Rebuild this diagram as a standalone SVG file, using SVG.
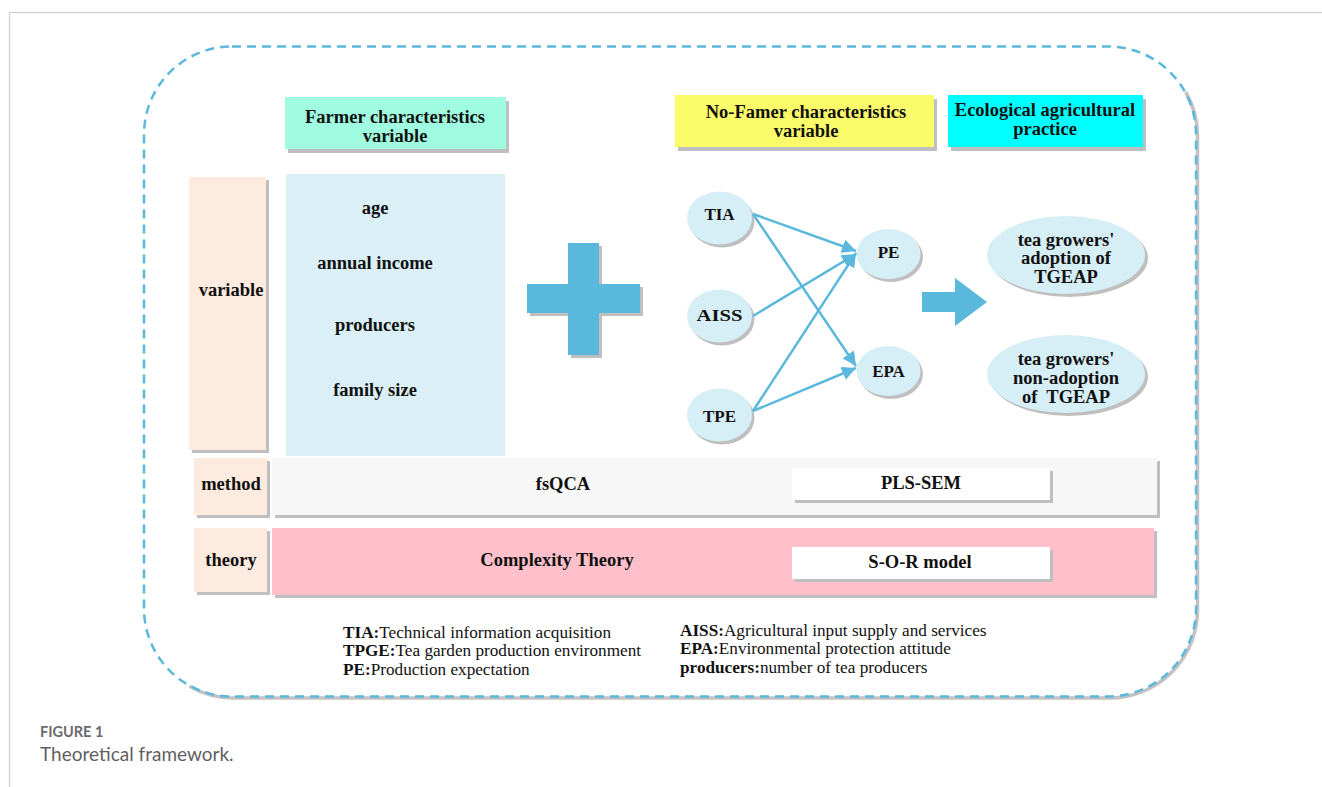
<svg xmlns="http://www.w3.org/2000/svg" width="1322" height="787" viewBox="0 0 1322 787">
<defs>
<style>
.t{font-family:"Liberation Serif","Times New Roman",serif;font-weight:bold;font-size:18.5px;fill:#111;text-anchor:middle}
.e{font-family:"Liberation Serif","Times New Roman",serif;font-weight:bold;font-size:17px;fill:#111;text-anchor:middle}
.lg{font-family:"Liberation Serif","Times New Roman",serif;font-size:17.2px;fill:#111}
.lg tspan.b{font-weight:bold}
.sh{fill:#bfbfbf}
.ell{fill:#d6eef5}
.con{stroke:#5bb8dd;stroke-width:2.5;fill:none;marker-end:url(#ah)}
</style>
<marker id="ah" markerUnits="userSpaceOnUse" markerWidth="16" markerHeight="14" refX="14" refY="7" orient="auto">
<path d="M0,0 L14,7 L0,14 Z" fill="#5bb8dd"/>
</marker>
</defs>
<rect width="1322" height="787" fill="#fff"/>
<g id="page-frame" fill="none" stroke="#d4d4d4" stroke-width="1.5">
<path d="M9.5,787 V12.5 H1322"/>
</g>
<g id="outer-frame" fill="none">
<path d="M1184.2,90.5 A88,88 0 0 1 1196,134.5 V608.5 A88,88 0 0 1 1108,696.5 H232 A88,88 0 0 1 188,684.7" stroke="#c2c2c2" stroke-width="3.5" transform="translate(1.5,1.5)"/>
<rect x="144" y="46.5" width="1052" height="650" rx="88" ry="88" stroke="#5bb8dd" stroke-width="2.5" stroke-dasharray="9,6"/>
</g>
<g id="farmer-header">
<rect class="sh" x="288" y="101" width="221" height="52"/>
<rect x="285" y="97" width="221" height="52" fill="#a0fce0"/>
<text class="t" x="395" y="123">Farmer characteristics</text>
<text class="t" x="395" y="142">variable</text>
</g>
<g id="nofarmer-header">
<rect class="sh" x="678" y="99" width="259" height="52"/>
<rect x="675" y="95" width="259" height="52" fill="#fcfc6a"/>
<text class="t" x="806" y="118">No-Famer characteristics</text>
<text class="t" x="806" y="137">variable</text>
</g>
<g id="eco-header">
<rect class="sh" x="951" y="99" width="195" height="52"/>
<rect x="948" y="95" width="195" height="52" fill="#00ffff"/>
<text class="t" x="1045" y="116">Ecological agricultural</text>
<text class="t" x="1045" y="135">practice</text>
</g>
<g id="variable-label">
<rect class="sh" x="192" y="180" width="77" height="273"/>
<rect x="189" y="177" width="77" height="273" fill="#fdebdf"/>
<text class="t" x="231" y="296">variable</text>
</g>
<g id="farmer-vars">
<rect x="286" y="174" width="219" height="282" fill="#daf0f6"/>
<text class="t" x="375" y="214">age</text>
<text class="t" x="375" y="269">annual income</text>
<text class="t" x="375" y="331">producers</text>
<text class="t" x="375" y="396">family size</text>
</g>
<g id="plus">
<path class="sh" d="M571,246 H602 V287 H643 V316 H602 V358 H571 V316 H530 V287 H571 Z"/>
<path d="M568,243 H599 V284 H640 V313 H599 V355 H568 V313 H527 V284 H568 Z" fill="#5bb8dd"/>
</g>
<g id="node-TIA">
<ellipse class="sh" cx="722" cy="221" rx="32.5" ry="26.5"/>
<ellipse class="ell" cx="719.5" cy="218" rx="32.5" ry="26.5"/>
<text class="e" x="719.5" y="220">TIA</text>
</g>
<g id="node-AISS">
<ellipse class="sh" cx="722" cy="319" rx="32.5" ry="26.5"/>
<ellipse class="ell" cx="719.5" cy="316" rx="32.5" ry="26.5"/>
<text class="e" x="719.5" y="321" textLength="46" lengthAdjust="spacingAndGlyphs">AISS</text>
</g>
<g id="node-TPE">
<ellipse class="sh" cx="722" cy="418" rx="32.5" ry="26.5"/>
<ellipse class="ell" cx="719.5" cy="415" rx="32.5" ry="26.5"/>
<text class="e" x="719.5" y="422">TPE</text>
</g>
<g id="node-PE">
<ellipse class="sh" cx="891" cy="257" rx="32" ry="25"/>
<ellipse class="ell" cx="888.5" cy="254" rx="32" ry="25"/>
<text class="e" x="888.5" y="258">PE</text>
</g>
<g id="node-EPA">
<ellipse class="sh" cx="891" cy="374" rx="32" ry="25"/>
<ellipse class="ell" cx="888.5" cy="371" rx="32" ry="25"/>
<text class="e" x="888.5" y="377">EPA</text>
</g>
<g id="connectors">
<line class="con" x1="753" y1="214" x2="856" y2="251"/>
<line class="con" x1="753" y1="214" x2="856" y2="366"/>
<line class="con" x1="753" y1="316" x2="856" y2="254"/>
<line class="con" x1="753" y1="411" x2="856" y2="253"/>
<line class="con" x1="753" y1="411" x2="856" y2="368"/>
</g>
<g id="big-arrow">
<path d="M922,292 H955 V278 L987,302 L955,326 V312 H922 Z" fill="#5bb8dd"/>
</g>
<g id="node-adoption">
<ellipse class="sh" cx="1069" cy="258" rx="79" ry="39"/>
<ellipse class="ell" cx="1066" cy="255" rx="79" ry="39"/>
<text class="t" x="1066" y="246">tea growers'</text>
<text class="t" x="1066" y="264">adoption of</text>
<text class="t" x="1066" y="283">TGEAP</text>
</g>
<g id="node-nonadoption">
<ellipse class="sh" cx="1069" cy="377" rx="79" ry="39"/>
<ellipse class="ell" cx="1066" cy="374" rx="79" ry="39"/>
<text class="t" x="1066" y="365">tea growers'</text>
<text class="t" x="1066" y="384">non-adoption</text>
<text class="t" x="1066" y="403">of&#160; TGEAP</text>
</g>
<g id="method-row">
<rect class="sh" x="197" y="461" width="73" height="57"/>
<rect x="194" y="458" width="73" height="57" fill="#fdebdf"/>
<text class="t" x="231" y="490">method</text>
<rect class="sh" x="275" y="461" width="885" height="57"/>
<rect x="272" y="458" width="885" height="57" fill="#f7f7f7"/>
<text class="t" x="563" y="490">fsQCA</text>
<rect class="sh" x="795" y="471" width="258" height="32"/>
<rect x="792" y="468" width="258" height="32" fill="#ffffff"/>
<text class="t" x="921" y="489">PLS-SEM</text>
</g>
<g id="theory-row">
<rect class="sh" x="197" y="531" width="73" height="64"/>
<rect x="194" y="528" width="73" height="64" fill="#fdebdf"/>
<text class="t" x="231" y="566">theory</text>
<rect class="sh" x="275" y="531" width="882" height="67"/>
<rect x="272" y="528" width="882" height="67" fill="#ffc0cb"/>
<text class="t" x="557" y="566">Complexity Theory</text>
<rect class="sh" x="795" y="550" width="258" height="32"/>
<rect x="792" y="547" width="258" height="32" fill="#ffffff"/>
<text class="t" x="920" y="568">S-O-R model</text>
</g>
<g id="legend">
<text class="lg" x="343" y="638"><tspan class="b">TIA:</tspan>Technical information acquisition</text>
<text class="lg" x="343" y="656"><tspan class="b">TPGE:</tspan>Tea garden production environment</text>
<text class="lg" x="343" y="675"><tspan class="b">PE:</tspan>Production expectation</text>
<text class="lg" x="680" y="636"><tspan class="b">AISS:</tspan>Agricultural input supply and services</text>
<text class="lg" x="680" y="654"><tspan class="b">EPA:</tspan>Environmental protection attitude</text>
<text class="lg" x="680" y="673"><tspan class="b">producers:</tspan>number of tea producers</text>
</g>
<g id="caption">
<text x="40" y="737" font-family="Lato, 'Open Sans', sans-serif" font-size="14.5" font-weight="bold" fill="#6b6b6b">FIGURE 1</text>
<text x="40" y="761" font-family="Lato, 'Open Sans', sans-serif" font-size="19" fill="#5f5f5f">Theoretical framework.</text>
</g>
</svg>
